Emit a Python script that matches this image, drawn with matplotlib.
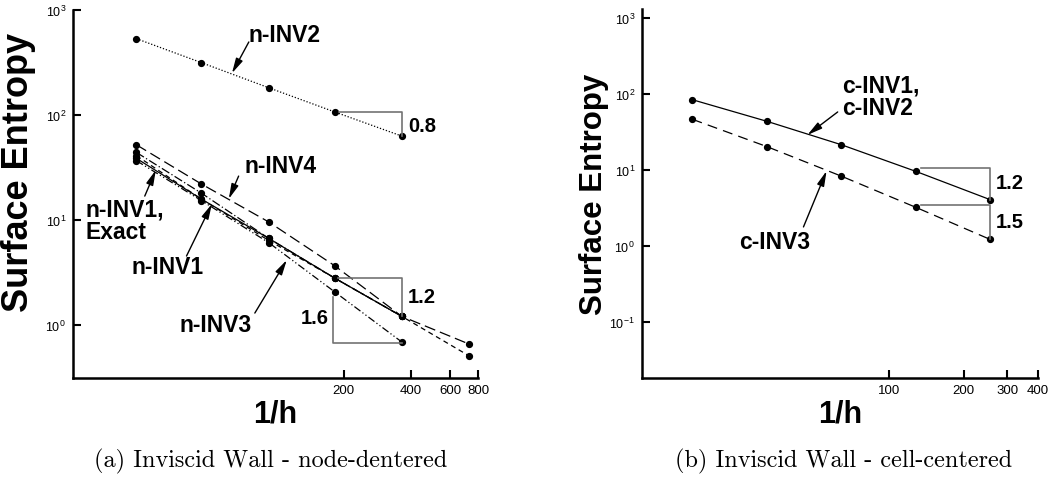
import matplotlib
matplotlib.use('Agg')
import matplotlib.pyplot as plt
from matplotlib.ticker import FixedLocator, NullLocator, FixedFormatter

plt.rcParams['font.family'] = ['Liberation Sans', 'DejaVu Sans']

# (a) node-centered
n_h = [23.5, 46, 92, 182, 364]
n_h_ext = [23.5, 46, 92, 182, 364, 728]
n_inv2 = [533, 315, 182, 107, 63]
n_inv4 = [52, 22, 9.6, 3.67, 1.21, 0.66]
n_inv1b = [44, 18, 6.7, 2.8, 1.21]
n_inv1 = [38.6, 15.8, 6.7, 2.8, 1.21]
n_exact = [41, 15.8, 6.4, 2.8, 1.21, 0.51]
n_inv3 = [36.7, 15.3, 6.1, 2.07, 0.69]

# (b) cell-centered
c_h = [16, 32, 64, 128, 256]
c_inv12 = [84, 43.7, 21.5, 9.6, 4.07]
c_inv3 = [46.4, 20.3, 8.3, 3.23, 1.22]

left_xticks = [200, 400, 600, 800]
right_xticks = [100, 200, 300, 400]

fig = plt.figure(figsize=(10.63, 4.81), dpi=100)
ax1 = fig.add_axes([73/1063, 102/481, 405/1063, 368/481])
ax2 = fig.add_axes([642/1063, 102/481, 396/1063, 369/481])

mk = dict(marker='o', ms=4.2, mfc='k', mec='k', color='k', lw=0.9)

ax1.plot(n_h, n_inv2, ls=(0, (1, 1.5)), **mk)
ax1.plot(n_h_ext, n_inv4, ls=(0, (9, 4)), **mk)
ax1.plot(n_h, n_inv1b, ls=(0, (7, 2, 1, 2)), **mk)
ax1.plot(n_h, n_inv1, ls='-', **mk)
ax1.plot(n_h_ext, n_exact, ls=(0, (4, 3)), **mk)
ax1.plot(n_h, n_inv3, ls=(0, (6, 2, 1, 2, 1, 2)), **mk)

ax2.plot(c_h, c_inv12, ls='-', **mk)
ax2.plot(c_h, c_inv3, ls=(0, (8, 5)), **mk)

tri = dict(color='0.45', lw=1.2)
# slope triangles (a)
ax1.plot([n_h[3] * 1.05, n_h[4], n_h[4]], [n_inv2[3], n_inv2[3], n_inv2[4]], **tri)
ax1.plot([n_h[3] * 1.03, n_h[4], n_h[4]], [n_inv1[3], n_inv1[3], n_inv1[4]], **tri)
ax1.plot([n_h[3] * 0.985, n_h[3] * 0.985, n_h[4]], [n_inv3[3] * 0.9, n_inv3[4] * 0.98, n_inv3[4] * 0.98], **tri)
# slope triangles (b)
ax2.plot([c_h[3] * 1.05, c_h[4], c_h[4]], [c_inv12[3] * 1.1, c_inv12[3] * 1.1, c_inv12[4]], **tri)
ax2.plot([c_h[3] * 1.05, c_h[4], c_h[4]], [c_inv3[3] * 1.08, c_inv3[3] * 1.08, c_inv3[4]], **tri)

lab = dict(fontsize=16.5, fontweight='bold')
num = dict(fontsize=14.5, fontweight='bold', va='center')
arr = dict(arrowstyle='-|>,head_length=0.9,head_width=0.22', color='k', lw=1.0,
           shrinkA=0, shrinkB=0, mutation_scale=10)

ax1.text(108.9, 578, 'n-INV2', ha='center', va='center', **lab)
ax1.annotate('', xy=(63, 250), xytext=(75, 496), arrowprops=arr)
ax1.text(104.4, 32.7, 'n-INV4', ha='center', va='center', **lab)
ax1.annotate('', xy=(61, 15.9), xytext=(67.5, 26.2), arrowprops=arr)
ax1.text(13.9, 10, 'n-INV1,\nExact', ha='left', va='center', linespacing=0.95, **lab)
ax1.annotate('', xy=(28.7, 29.9), xytext=(25.6, 16.9), arrowprops=arr)
ax1.text(32.4, 3.57, 'n-INV1', ha='center', va='center', **lab)
ax1.annotate('', xy=(51.2, 14.2), xytext=(39.4, 4.54), arrowprops=arr)
ax1.text(53.3, 1.02, 'n-INV3', ha='center', va='center', **lab)
ax1.annotate('', xy=(111, 4.16), xytext=(79.8, 1.30), arrowprops=arr)
ax1.text(391, 78.6, '0.8', ha='left', **num)
ax1.text(388, 1.85, '1.2', ha='left', **num)
ax1.text(148, 1.17, '1.6', ha='center', **num)

ax2.text(64.3, 94, 'c-INV1,\nc-INV2', ha='left', va='center', linespacing=0.95, **lab)
ax2.annotate('', xy=(46.7, 28.9), xytext=(61.9, 58), arrowprops=arr)
ax2.text(34.3, 1.13, 'c-INV3', ha='center', va='center', **lab)
ax2.annotate('', xy=(55.8, 9.7), xytext=(45, 1.78), arrowprops=arr)
ax2.text(271, 6.74, '1.2', ha='left', **num)
ax2.text(271, 2.13, '1.5', ha='left', **num)

for ax, xt, xl, yl, ysize, ylc in [(ax1, left_xticks, (12.2, 800), (0.313, 1000), 26, (-0.091, 0.56)),
                                   (ax2, right_xticks, (10, 400), (0.0183, 1313), 22.5, (-0.083, 0.50))]:
    ax.set_xscale('log')
    ax.set_yscale('log')
    ax.set_xlim(*xl)
    ax.set_ylim(*yl)
    ax.xaxis.set_major_locator(FixedLocator(xt))
    ax.xaxis.set_major_formatter(FixedFormatter([str(v) for v in xt]))
    ax.xaxis.set_minor_locator(NullLocator())
    ax.yaxis.set_minor_locator(NullLocator())
    for s in ['top', 'right']:
        ax.spines[s].set_visible(False)
    for s in ['left', 'bottom']:
        ax.spines[s].set_linewidth(1.8)
    ax.tick_params(direction='in', length=6, width=1.5, labelsize=9.5, pad=4)
    ax.tick_params(axis='y', labelsize=9, pad=5)
    ax.set_xlabel('1/h', fontsize=22, fontweight='bold', labelpad=2)
    ax.set_ylabel('Surface Entropy', fontsize=ysize, fontweight='bold')
    ax.yaxis.set_label_coords(*ylc)

ax1.yaxis.set_major_locator(FixedLocator([1, 10, 100, 1000]))
ax2.yaxis.set_major_locator(FixedLocator([0.1, 1, 10, 100, 1000]))

fig.text(271/1063, 1 - 461/481, '(a) Inviscid Wall - node-dentered', fontname='cmr10',
         fontsize=17.5, ha='center', va='center')
fig.text(844/1063, 1 - 461/481, '(b) Inviscid Wall - cell-centered', fontname='cmr10',
         fontsize=17.5, ha='center', va='center')

fig.savefig('out.png', dpi=100)
